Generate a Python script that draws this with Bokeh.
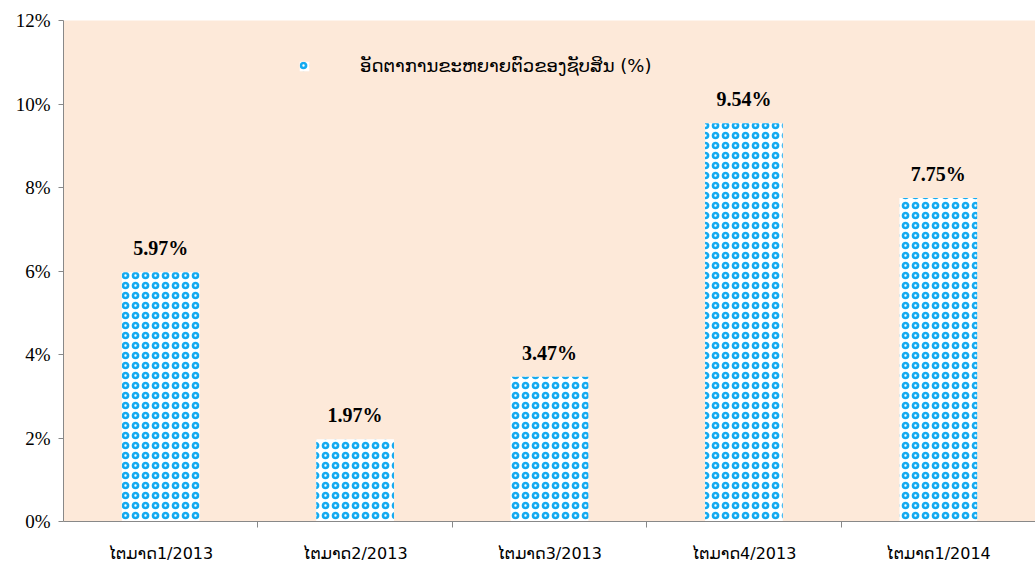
from bokeh.plotting import figure
from bokeh.models import (ColumnDataSource, FixedTicker, PrintfTickFormatter,
                          Range1d, LabelSet, Legend, LegendItem)
from bokeh.embed import file_html
from bokeh.resources import INLINE

categories = ["ໄຕມາດ1/2013", "ໄຕມາດ2/2013", "ໄຕມາດ3/2013", "ໄຕມາດ4/2013", "ໄຕມາດ1/2014"]
growth = [5.97, 1.97, 3.47, 9.54, 7.75]
series_name = "ອັດຕາການຂະຫຍາຍຕົວຂອງຊັບສິນ (%)"

xs = [i + 0.5 for i in range(len(categories))]
src = ColumnDataSource(dict(x=xs, y=growth, lab=[f"{v:.2f}%" for v in growth]))

SERIF = "'Liberation Serif', 'Times New Roman', serif"

p = figure(width=1035, height=565, output_backend="svg", toolbar_location=None,
           x_range=Range1d(0, len(categories)), y_range=Range1d(0, 12))
p.min_border_left = 63
p.min_border_top = 20
p.min_border_right = 0
p.min_border_bottom = 30
p.outline_line_color = None
p.background_fill_color = "#FDE9D9"
p.border_fill_color = "white"
p.xgrid.visible = False
p.ygrid.visible = False

r = p.vbar(x="x", top="y", width=0.4, source=src, fill_color="white",
           line_color=None, hatch_pattern="ring", hatch_color="#14AAF0",
           hatch_scale=10, hatch_weight=2.6)

labels = LabelSet(x="x", y="y", text="lab", source=src, text_align="center",
                  text_baseline="bottom", y_offset=13, text_font=SERIF,
                  text_font_size="20px", text_font_style="bold", text_color="black")
p.add_layout(labels)

# y axis
p.yaxis.ticker = FixedTicker(ticks=[0, 2, 4, 6, 8, 10, 12])
p.yaxis.formatter = PrintfTickFormatter(format="%d%%")
p.yaxis.major_label_text_font = SERIF
p.yaxis.major_label_text_font_size = "19px"
p.yaxis.major_label_text_color = "black"
p.yaxis.axis_line_color = "#888888"
p.yaxis.major_tick_line_color = "#888888"
p.yaxis.major_tick_out = 5
p.yaxis.major_tick_in = 0
p.yaxis.minor_tick_line_color = None
p.yaxis.major_label_standoff = 8

# x axis
p.xaxis.ticker = FixedTicker(ticks=xs, minor_ticks=[1, 2, 3, 4])
p.xaxis.major_label_overrides = {x: c for x, c in zip(xs, categories)}
p.xaxis.major_label_text_font = "DejaVu Sans"
p.xaxis.major_label_text_font_size = "16px"
p.xaxis.major_label_text_color = "black"
p.xaxis.axis_line_color = "#888888"
p.xaxis.major_tick_line_color = None
p.xaxis.minor_tick_line_color = "#888888"
p.xaxis.minor_tick_out = 6
p.xaxis.minor_tick_in = 0
p.xaxis.major_label_standoff = 16

legend = Legend(items=[LegendItem(label=series_name, renderers=[r])],
                location=(235, 445), orientation="horizontal",
                background_fill_alpha=0, border_line_color=None,
                glyph_width=12, glyph_height=12, label_standoff=50,
                label_text_font="DejaVu Sans", label_text_font_size="18px",
                label_text_color="black")
p.add_layout(legend)

open("out.html", "w").write(file_html(p, INLINE))
